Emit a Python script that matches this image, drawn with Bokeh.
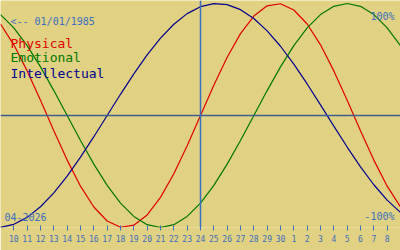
from bokeh.plotting import figure
from bokeh.models import Range1d, FixedTicker, Span
from bokeh.core.properties import value
from bokeh.embed import file_html
from bokeh.resources import INLINE

# ---- data ----
days = list(range(9, 40))  # April 9 .. May 9 (days after April 30 continue as 31, 32, ...)
physical = [0.8170, 0.6311, 0.3984, 0.1362, -0.1362, -0.3984, -0.6311, -0.8170, -0.9423, -0.9977,
            -0.9791, -0.8879, -0.7308, -0.5196, -0.2698, 0.0, 0.2698, 0.5196, 0.7308, 0.8879,
            0.9791, 0.9977, 0.9423, 0.8170, 0.6311, 0.3984, 0.1362, -0.1362, -0.3984, -0.6311, -0.8170]
emotional = [0.9010, 0.7818, 0.6235, 0.4339, 0.2225, 0.0, -0.2225, -0.4339, -0.6235, -0.7818,
             -0.9010, -0.9749, -1.0, -0.9749, -0.9010, -0.7818, -0.6235, -0.4339, -0.2225, 0.0,
             0.2225, 0.4339, 0.6235, 0.7818, 0.9010, 0.9749, 1.0, 0.9749, 0.9010, 0.7818, 0.6235]
intellectual = [-0.9989, -0.9718, -0.9096, -0.8146, -0.6901, -0.5406, -0.3717, -0.1893, 0.0, 0.1893,
                0.3717, 0.5406, 0.6901, 0.8146, 0.9096, 0.9718, 0.9989, 0.9898, 0.9450, 0.8660,
                0.7557, 0.6182, 0.4582, 0.2817, 0.0951, -0.0951, -0.2817, -0.4582, -0.6182, -0.7557, -0.8660]
tick_days = list(range(10, 39))
tick_labels = [str(d) for d in range(10, 31)] + [str(d) for d in range(1, 9)]
today = 24
birth_text = "<-- 01/01/1985"
month_text = "04-2026"
series_names = ["Physical", "Emotional", "Intellectual"]

BG = "#E1D182"
BLUE = "#3A6FC0"
RED = "#E00000"
GREEN = "#007800"
NAVY = "#000090"
MONO = "DejaVu Sans Mono"

p = figure(output_backend="svg", toolbar_location=None,
           frame_width=400, frame_height=227,
           x_range=Range1d(9, 39), y_range=Range1d(-1.0, 1.0268),
           min_border_left=0, min_border_right=0, min_border_top=0, min_border_bottom=23)
p.background_fill_color = BG
p.border_fill_color = BG
p.outline_line_color = None
p.grid.visible = False
p.yaxis.visible = False

ax = p.xaxis[0]
ax.ticker = FixedTicker(ticks=tick_days)
ax.major_label_overrides = {d: l for d, l in zip(tick_days, tick_labels)}
ax.axis_line_color = None
ax.major_tick_line_color = BLUE
ax.major_tick_in = 2
ax.major_tick_out = 3
ax.minor_tick_line_color = None
ax.major_label_text_color = BLUE
ax.major_label_text_font = MONO
ax.major_label_text_font_size = "8px"
ax.major_label_standoff = 4

p.add_layout(Span(location=0, dimension="width", line_color="#3F5F90", line_width=1.5))
p.add_layout(Span(location=today, dimension="height", line_color=BLUE, line_width=1.5))

p.line(days, physical, line_color=RED, line_width=1.2)
p.line(days, emotional, line_color=GREEN, line_width=1.2)
p.line(days, intellectual, line_color=NAVY, line_width=1.2)

def txt(x, y, s, color, size, align="left"):
    p.text(x=[x], y=[y], text=[s], text_color=color, text_font=value(MONO),
           text_font_size=size, text_align=align, text_baseline="alphabetic")

txt(9.75, 0.842, birth_text, BLUE, "10px")
txt(9.75, 0.6455, series_names[0], RED, "13px")
txt(9.75, 0.515, series_names[1], GREEN, "13px")
txt(9.75, 0.378, series_names[2], NAVY, "13px")
txt(38.55, 0.887, "100%", BLUE, "10px", "right")
txt(38.55, -0.902, "-100%", BLUE, "10px", "right")
txt(9.3, -0.902, month_text, BLUE, "10px")

open("out.html", "w").write(file_html(p, INLINE))
